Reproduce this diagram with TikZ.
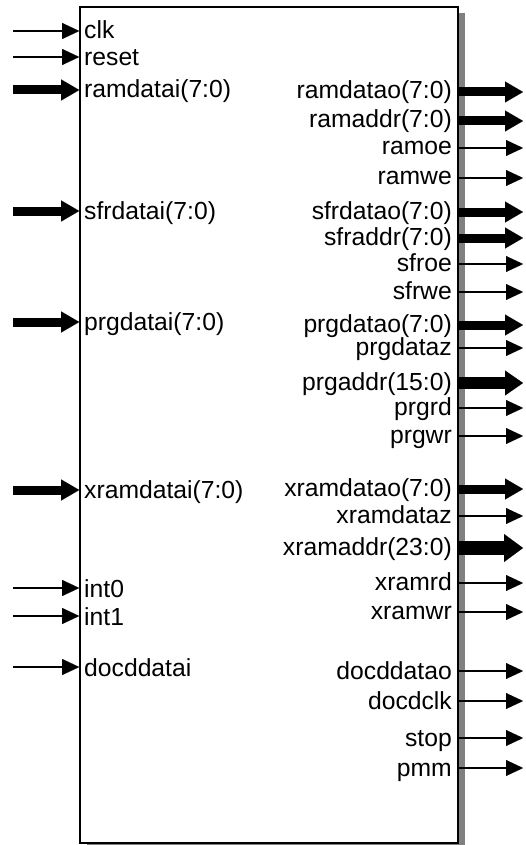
\documentclass[tikz,border=0pt]{standalone}
\usepackage{fontspec}
\setmainfont{Liberation Sans}
\usetikzlibrary{arrows.meta,shadows}

\begin{document}
\begin{tikzpicture}[x=1pt,y=-1pt,line join=miter,
  sig/.style={line width=1.4pt,-{Triangle[length=17pt,width=16pt,line width=0.01pt]}},
  bus/.style={line width=9pt,-{Triangle[length=18pt,width=21pt,line width=0.01pt]}},
  wbus/.style={line width=12pt,-{Triangle[length=18pt,width=25pt,line width=0.01pt]}},
  xbus/.style={line width=14pt,-{Triangle[length=19pt,width=28pt,line width=0.01pt]}},
  lin/.style={anchor=base west,inner sep=0pt,font=\fontsize{24.7}{26}\selectfont},
  lout/.style={anchor=base east,inner sep=0pt,font=\fontsize{24.7}{26}\selectfont},
  blk/.style={draw,line width=1.6pt,fill=white,minimum width=378pt,minimum height=836pt,inner sep=0pt,
    drop shadow={shadow xshift=7pt,shadow yshift=-6pt,fill=black!50,opacity=1}}]
  \useasboundingbox (0,0) rectangle (526,845);
  \node[blk] (core) at (269,425) {};
  % inputs
  \coordinate (clk-s) at (13,31);
  \draw[sig] (clk-s) -- (clk-s -| core.west);
  \node[lin] (clk) at (84,39) {clk};
  \coordinate (reset-s) at (13,57);
  \draw[sig] (reset-s) -- (reset-s -| core.west);
  \node[lin] (reset) at (84,66) {reset};
  \coordinate (ramdatai-s) at (13,90);
  \draw[bus] (ramdatai-s) -- (ramdatai-s -| core.west);
  \node[lin] (ramdatai) at (84,98) {ramdatai(7:0)};
  \coordinate (sfrdatai-s) at (13,211);
  \draw[bus] (sfrdatai-s) -- (sfrdatai-s -| core.west);
  \node[lin] (sfrdatai) at (84,219) {sfrdatai(7:0)};
  \coordinate (prgdatai-s) at (13,322);
  \draw[bus] (prgdatai-s) -- (prgdatai-s -| core.west);
  \node[lin] (prgdatai) at (84,330) {prgdatai(7:0)};
  \coordinate (xramdatai-s) at (13,490);
  \draw[bus] (xramdatai-s) -- (xramdatai-s -| core.west);
  \node[lin] (xramdatai) at (84,498) {xramdatai(7:0)};
  \coordinate (int0-s) at (13,588);
  \draw[sig] (int0-s) -- (int0-s -| core.west);
  \node[lin] (int0) at (84,597) {int0};
  \coordinate (int1-s) at (13,616);
  \draw[sig] (int1-s) -- (int1-s -| core.west);
  \node[lin] (int1) at (84,625) {int1};
  \coordinate (docddatai-s) at (13,667);
  \draw[sig] (docddatai-s) -- (docddatai-s -| core.west);
  \node[lin] (docddatai) at (84,676) {docddatai};
  % outputs
  \coordinate (ramdatao-d) at (523,92);
  \draw[bus] (ramdatao-d -| core.east) -- (ramdatao-d);
  \node[lout] (ramdatao) at (452,99) {ramdatao(7:0)};
  \coordinate (ramaddr-d) at (523,121);
  \draw[bus] (ramaddr-d -| core.east) -- (ramaddr-d);
  \node[lout] (ramaddr) at (452,128) {ramaddr(7:0)};
  \coordinate (ramoe-d) at (523,148);
  \draw[sig] (ramoe-d -| core.east) -- (ramoe-d);
  \node[lout] (ramoe) at (452,155) {ramoe};
  \coordinate (ramwe-d) at (523,178);
  \draw[sig] (ramwe-d -| core.east) -- (ramwe-d);
  \node[lout] (ramwe) at (452,185) {ramwe};
  \coordinate (sfrdatao-d) at (523,212);
  \draw[bus] (sfrdatao-d -| core.east) -- (sfrdatao-d);
  \node[lout] (sfrdatao) at (452,219) {sfrdatao(7:0)};
  \coordinate (sfraddr-d) at (523,238);
  \draw[bus] (sfraddr-d -| core.east) -- (sfraddr-d);
  \node[lout] (sfraddr) at (452,245) {sfraddr(7:0)};
  \coordinate (sfroe-d) at (523,264);
  \draw[sig] (sfroe-d -| core.east) -- (sfroe-d);
  \node[lout] (sfroe) at (452,271) {sfroe};
  \coordinate (sfrwe-d) at (523,292);
  \draw[sig] (sfrwe-d -| core.east) -- (sfrwe-d);
  \node[lout] (sfrwe) at (452,299) {sfrwe};
  \coordinate (prgdatao-d) at (523,325);
  \draw[bus] (prgdatao-d -| core.east) -- (prgdatao-d);
  \node[lout] (prgdatao) at (452,332) {prgdatao(7:0)};
  \coordinate (prgdataz-d) at (523,348);
  \draw[sig] (prgdataz-d -| core.east) -- (prgdataz-d);
  \node[lout] (prgdataz) at (452,355) {prgdataz};
  \coordinate (prgaddr-d) at (523,383);
  \draw[wbus] (prgaddr-d -| core.east) -- (prgaddr-d);
  \node[lout] (prgaddr) at (452,390) {prgaddr(15:0)};
  \coordinate (prgrd-d) at (523,408);
  \draw[sig] (prgrd-d -| core.east) -- (prgrd-d);
  \node[lout] (prgrd) at (452,415) {prgrd};
  \coordinate (prgwr-d) at (523,436);
  \draw[sig] (prgwr-d -| core.east) -- (prgwr-d);
  \node[lout] (prgwr) at (452,443) {prgwr};
  \coordinate (xramdatao-d) at (523,489);
  \draw[bus] (xramdatao-d -| core.east) -- (xramdatao-d);
  \node[lout] (xramdatao) at (452,496) {xramdatao(7:0)};
  \coordinate (xramdataz-d) at (523,516);
  \draw[sig] (xramdataz-d -| core.east) -- (xramdataz-d);
  \node[lout] (xramdataz) at (452,523) {xramdataz};
  \coordinate (xramaddr-d) at (523,548);
  \draw[xbus] (xramaddr-d -| core.east) -- (xramaddr-d);
  \node[lout] (xramaddr) at (452,555) {xramaddr(23:0)};
  \coordinate (xramrd-d) at (523,583);
  \draw[sig] (xramrd-d -| core.east) -- (xramrd-d);
  \node[lout] (xramrd) at (452,590) {xramrd};
  \coordinate (xramwr-d) at (523,612);
  \draw[sig] (xramwr-d -| core.east) -- (xramwr-d);
  \node[lout] (xramwr) at (452,619) {xramwr};
  \coordinate (docddatao-d) at (523,671);
  \draw[sig] (docddatao-d -| core.east) -- (docddatao-d);
  \node[lout] (docddatao) at (452,679) {docddatao};
  \coordinate (docdclk-d) at (523,701);
  \draw[sig] (docdclk-d -| core.east) -- (docdclk-d);
  \node[lout] (docdclk) at (452,709) {docdclk};
  \coordinate (stop-d) at (523,738);
  \draw[sig] (stop-d -| core.east) -- (stop-d);
  \node[lout] (stop) at (452,746) {stop};
  \coordinate (pmm-d) at (523,768);
  \draw[sig] (pmm-d -| core.east) -- (pmm-d);
  \node[lout] (pmm) at (452,776) {pmm};
\end{tikzpicture}
\end{document}
